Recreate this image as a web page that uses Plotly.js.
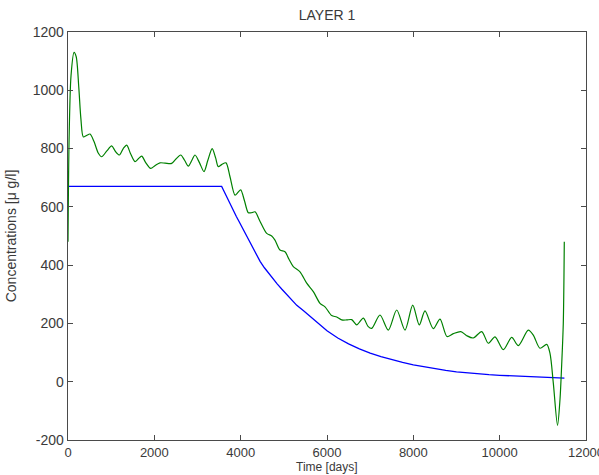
<!DOCTYPE html>
<html>
<head>
<meta charset="utf-8">
<script src="https://cdn.plot.ly/plotly-3.0.1.min.js"></script>
<style>html,body{margin:0;padding:0;background:#fff;}#chart{width:599px;height:475px;}</style>
</head>
<body>
<div id="chart"></div>
<script>
var greenTime = [0,25,70,140,190,250,300,355,430,510,600,700,780,900,1012,1100,1190,1280,1360,1450,1552,1630,1707,1800,1915,2020,2131,2250,2402,2500,2610,2700,2787,2870,2942,3050,3151,3240,3340,3420,3482,3560,3660,3750,3869,3940,4001,4090,4177,4260,4332,4450,4603,4719,4795,4911,5027,5120,5219,5375,5530,5683,5838,5954,6109,6225,6341,6457,6572,6688,6841,6950,7036,7227,7420,7615,7807,7986,8138,8270,8463,8618,8780,8926,9100,9236,9389,9584,9737,9892,10084,10279,10432,10663,10779,10934,11090,11166,11243,11340,11398,11437,11474,11497];
var greenConc = [480,830,1050,1130,1115,1010,900,840,845,850,825,785,772,792,809,790,778,800,812,782,755,765,774,752,732,742,751,750,749,764,778,760,740,760,778,750,721,760,800,768,738,745,751,705,640,650,658,620,580,580,583,550,509,500,486,452,446,420,395,377,338,309,269,257,227,222,212,212,213,195,218,190,183,229,177,246,177,263,195,243,182,215,155,165,172,158,150,172,132,154,110,152,124,177,160,115,128,97,-5,-150,-60,60,200,480];

// Modelled series (blue)
var blueTime = [0,3560,3600,3650,3700,3750,3800,3850,3900,3950,4000,4050,4100,4150,4250,4350,4450,4550,4650,4750,4850,4950,5050,5150,5300,5450,5600,5800,6000,6250,6500,6750,7000,7250,7500,7750,8000,8250,8500,8750,9000,9250,9500,9750,10000,10250,10500,10750,11000,11250,11500];
var blueConc = [670,670,658,642,627,612,597,582,567,553,539,525,511,497,468,439,413,391,371,352,335,318,302,285,262,244,225,197,175,150,130,113,98,86,75,66,58,51,45,39,34,30,27,24,22,20,18,16,14,13,12];

var xTicks = [0,2000,4000,6000,8000,10000,12000];
var yTicks = [-200,0,200,400,600,800,1000,1200];

var titleText = 'LAYER 1';
var xTitle = 'Time [days]';
var yTitle = 'Concentrations [\u03bc g/l]';

var font = 'Liberation Sans, Arial, Helvetica, sans-serif';
var textColor = '#3a3a3a';
var axisColor = '#4a4a4a';

var traces = [
  {x: blueTime, y: blueConc, type: 'scatter', mode: 'lines',
   line: {color: 'rgb(0,0,255)', width: 1.3}, hoverinfo: 'skip'},
  {x: greenTime, y: greenConc, type: 'scatter', mode: 'lines',
   line: {color: 'rgb(0,128,0)', width: 1.2, shape: 'spline', smoothing: 0.8}, hoverinfo: 'skip'}
];

var axisCommon = {
  showline: true, linecolor: axisColor, linewidth: 1.3, mirror: 'ticks',
  ticks: 'inside', ticklen: 5, tickcolor: axisColor, tickwidth: 1,
  showgrid: false, zeroline: false, ticklabeloverflow: 'allow'
};

var layout = {
  width: 599, height: 475,
  margin: {l: 68, r: 13, t: 32, b: 35},
  paper_bgcolor: '#ffffff', plot_bgcolor: '#ffffff',
  showlegend: false,
  font: {family: font, color: textColor},
  title: {text: titleText, font: {family: font, size: 14, color: textColor},
          xref: 'paper', x: 0.5, xanchor: 'center', yref: 'container', y: 0.968, yanchor: 'middle'},
  xaxis: Object.assign({}, axisCommon, {
    range: [0, 12000], tickvals: xTicks, ticktext: xTicks.map(String),
    tickfont: {family: font, size: 13, color: textColor}
  }),
  yaxis: Object.assign({}, axisCommon, {
    range: [-200, 1200], tickvals: yTicks, ticktext: yTicks.map(String),
    tickfont: {family: font, size: 14, color: textColor},
    title: {text: yTitle, font: {family: font, size: 14, color: textColor}, standoff: 12}
  }),
  annotations: [{
    text: xTitle, xref: 'paper', yref: 'paper', x: 0.5, y: -0.0855,
    xanchor: 'center', yanchor: 'bottom', showarrow: false, borderpad: 0,
    font: {family: font, size: 12, color: textColor}
  }]
};

Plotly.newPlot('chart', traces, layout, {staticPlot: true, displayModeBar: false});
</script>
</body>
</html>
